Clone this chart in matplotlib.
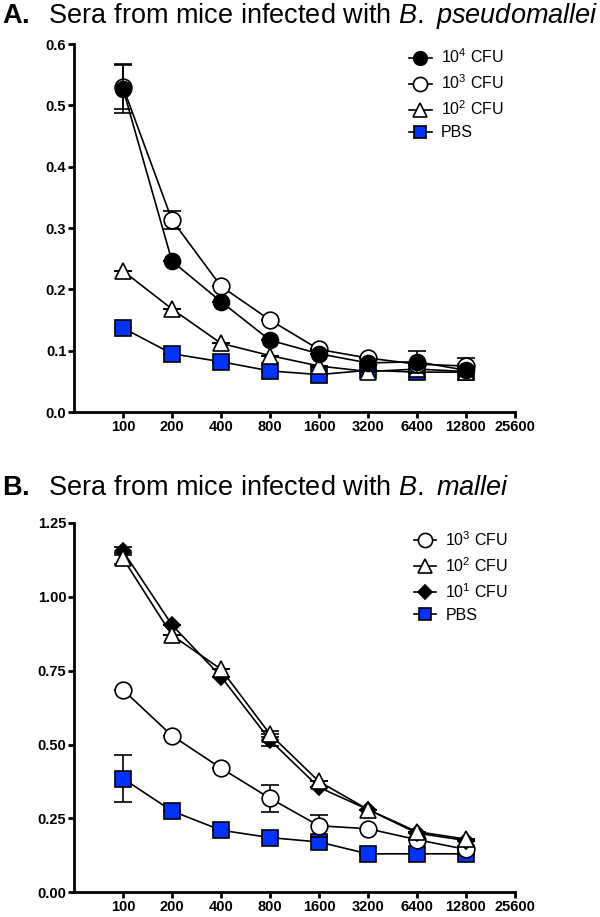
import matplotlib
matplotlib.use("Agg")
import matplotlib.pyplot as plt
from matplotlib.lines import Line2D

plt.rcParams['font.family'] = ['Liberation Sans', 'DejaVu Sans']
plt.rcParams['mathtext.fontset'] = 'custom'
plt.rcParams['mathtext.rm'] = 'Liberation Sans'
plt.rcParams['mathtext.it'] = 'Liberation Sans:italic'
plt.rcParams['mathtext.bf'] = 'Liberation Sans:bold'

# serum dilutions
dilutions = [100, 200, 400, 800, 1600, 3200, 6400, 12800]
xticks = [100, 200, 400, 800, 1600, 3200, 6400, 12800, 25600]

# Panel A: B. pseudomallei (errors hidden behind markers read as 0)
a_cfu4 = [0.527, 0.246, 0.180, 0.117, 0.095, 0.080, 0.082, 0.068]
a_cfu4_err = [0.040, 0.0, 0.0, 0.0, 0.0, 0.0, 0.018, 0.0]
a_cfu3 = [0.530, 0.313, 0.205, 0.150, 0.102, 0.088, 0.078, 0.075]
a_cfu3_err = [0.036, 0.015, 0.0, 0.0, 0.0, 0.0, 0.0, 0.013]
a_cfu2 = [0.230, 0.168, 0.112, 0.092, 0.075, 0.066, 0.070, 0.066]
a_cfu2_err = [0.0, 0.0, 0.0, 0.0, 0.0, 0.0, 0.0, 0.0]
a_pbs = [0.137, 0.095, 0.082, 0.067, 0.061, 0.068, 0.065, 0.065]
a_pbs_err = [0.0, 0.0, 0.0, 0.0, 0.0, 0.0, 0.0, 0.0]

# Panel B: B. mallei
b_cfu3 = [0.685, 0.530, 0.420, 0.318, 0.225, 0.215, 0.178, 0.145]
b_cfu3_err = [0.0, 0.0, 0.0, 0.045, 0.038, 0.0, 0.0, 0.0]
b_cfu2 = [1.130, 0.870, 0.755, 0.535, 0.375, 0.280, 0.205, 0.180]
b_cfu2_err = [0.020, 0.0, 0.0, 0.010, 0.0, 0.0, 0.0, 0.0]
b_cfu1 = [1.155, 0.905, 0.730, 0.515, 0.355, 0.280, 0.200, 0.175]
b_cfu1_err = [0.015, 0.0, 0.0, 0.020, 0.0, 0.0, 0.0, 0.0]
b_pbs = [0.385, 0.275, 0.210, 0.185, 0.170, 0.130, 0.130, 0.130]
b_pbs_err = [0.080, 0.0, 0.0, 0.0, 0.0, 0.0, 0.0, 0.0]

blue = '#0033ff'
LW = 1.2


def style_axes(ax, ymax, yticks, yfmt):
    ax.set_xscale('log', base=2)
    ax.set_xlim(50, 25600)
    ax.set_ylim(0, ymax)
    ax.set_xticks(xticks)
    ax.set_xticklabels([str(t) for t in xticks])
    ax.minorticks_off()
    ax.set_yticks(yticks)
    ax.set_yticklabels([yfmt.format(t) for t in yticks])
    for s in ['top', 'right']:
        ax.spines[s].set_visible(False)
    for s in ['left', 'bottom']:
        ax.spines[s].set_linewidth(2)
    ax.tick_params(width=2, length=4, labelsize=10.5, pad=1.5)
    for lab in ax.get_xticklabels() + ax.get_yticklabels():
        lab.set_fontweight('bold')


def series(ax, y, err, marker, face, ms, label, z):
    # error bars first, then line and markers on top of them
    ax.errorbar(dilutions, y, yerr=err, fmt='none', ecolor='black',
                elinewidth=LW, capsize=6.5, capthick=LW, zorder=z)
    line, = ax.plot(dilutions, y, color='black', marker=marker,
                    markerfacecolor=face, markeredgecolor='black',
                    markeredgewidth=LW, markersize=ms, linewidth=LW,
                    zorder=z + 0.5)
    return Line2D([], [], color='black', marker=marker, markerfacecolor=face,
                  markeredgecolor='black', markeredgewidth=LW,
                  markersize=ms * 0.85, linewidth=LW, label=label)


def add_legend(ax, handles, x, y):
    ax.legend(handles=handles, loc='upper left', bbox_to_anchor=(x, y),
              frameon=False, fontsize=11.5, handlelength=1.4, handletextpad=0.6,
              labelspacing=0.45, borderpad=0, borderaxespad=0)


fig = plt.figure(figsize=(6, 9.17), dpi=100)

axA = fig.add_axes([0.1233, 0.5507, 0.735, 0.4013])
hA = [
    series(axA, a_cfu4, a_cfu4_err, 'o', 'black', 11.5, r'10$^4$ CFU', 5),
    series(axA, a_cfu3, a_cfu3_err, 'o', 'white', 12, r'10$^3$ CFU', 4),
    series(axA, a_cfu2, a_cfu2_err, '^', 'white', 12, r'10$^2$ CFU', 3),
    series(axA, a_pbs, a_pbs_err, 's', blue, 11, 'PBS', 2),
]
style_axes(axA, 0.6, [0.0, 0.1, 0.2, 0.3, 0.4, 0.5, 0.6], '{:.1f}')
add_legend(axA, hA, 0.76, 0.99)
fig.text(0.004, 0.975, r'$\bf{A.}$  Sera from mice infected with $\it{B.}$ $\it{pseudomallei}$',
         fontsize=19.5, va='baseline')

axB = fig.add_axes([0.1233, 0.027, 0.735, 0.4027])
hB = [
    series(axB, b_cfu3, b_cfu3_err, 'o', 'white', 12, r'10$^3$ CFU', 2),
    series(axB, b_cfu2, b_cfu2_err, '^', 'white', 12, r'10$^2$ CFU', 4),
    series(axB, b_cfu1, b_cfu1_err, 'D', 'black', 8.5, r'10$^1$ CFU', 3),
    series(axB, b_pbs, b_pbs_err, 's', blue, 11, 'PBS', 1),
]
style_axes(axB, 1.25, [0.0, 0.25, 0.5, 0.75, 1.0, 1.25], '{:.2f}')
add_legend(axB, hB, 0.77, 0.98)
fig.text(0.004, 0.460, r'$\bf{B.}$  Sera from mice infected with $\it{B.}$ $\it{mallei}$',
         fontsize=19.5, va='baseline')

fig.savefig('out.png', dpi=100)
